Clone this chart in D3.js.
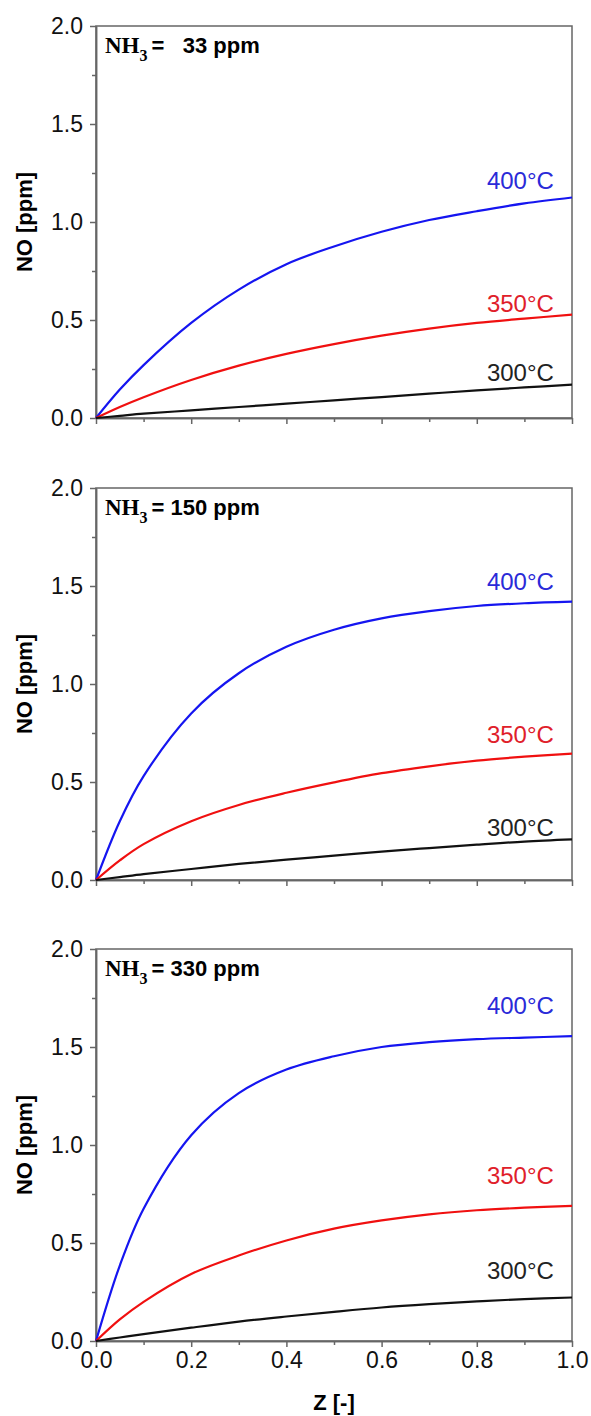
<!DOCTYPE html>
<html>
<head>
<meta charset="utf-8">
<style>
  body { margin: 0; background: #fff; }
  svg text { font-family: "Liberation Sans", Arial, sans-serif; }
  .axis path, .axis line { stroke: #666; stroke-width: 1.5; }
  .axis text { font-size: 23px; fill: #111; }
  .curve { fill: none; stroke-width: 2.2; }
  .tlabel { font-size: 24px; text-anchor: end; }
  .title { font-size: 22px; font-weight: bold; white-space: pre; }
</style>
</head>
<body>
<svg id="chart" width="591" height="1416"></svg>
<script src="https://d3js.org/d3.v7.min.js"></script>
<script>
// data
var zValues = [0, 0.05, 0.1, 0.2, 0.3, 0.4, 0.5, 0.6, 0.7, 0.8, 0.9, 1.0];
var nh3Levels = ["  33", "150", "330"];
var tempLabels = ["400°C", "350°C", "300°C"];
var tempColors = ["#1515f0", "#f01010", "#111111"];
var labelColors = ["#2a2ad8", "#e0202a", "#222222"];

var no400 = [
  [0, 0.145, 0.27, 0.485, 0.655, 0.785, 0.875, 0.95, 1.01, 1.055, 1.095, 1.125],
  [0, 0.30, 0.53, 0.85, 1.055, 1.19, 1.277, 1.335, 1.372, 1.398, 1.412, 1.42],
  [0, 0.385, 0.675, 1.05, 1.265, 1.385, 1.453, 1.50, 1.525, 1.54, 1.548, 1.555]
];
var no350 = [
  [0, 0.056, 0.106, 0.194, 0.267, 0.327, 0.377, 0.42, 0.456, 0.485, 0.507, 0.527],
  [0, 0.10, 0.183, 0.30, 0.383, 0.445, 0.498, 0.545, 0.58, 0.609, 0.629, 0.645],
  [0, 0.11, 0.2, 0.342, 0.436, 0.513, 0.573, 0.615, 0.646, 0.667, 0.68, 0.689]
];
var no300 = [
  [0, 0.011, 0.022, 0.039, 0.056, 0.073, 0.09, 0.107, 0.124, 0.141, 0.156, 0.17],
  [0, 0.015, 0.03, 0.056, 0.082, 0.104, 0.124, 0.145, 0.163, 0.18, 0.196, 0.207],
  [0, 0.018, 0.035, 0.068, 0.099, 0.125, 0.149, 0.171, 0.188, 0.202, 0.214, 0.222]
];

var yTicks = [0, 0.5, 1.0, 1.5, 2.0];
var yMinor = [0.25, 0.75, 1.25, 1.75];
var xTicks = [0, 0.2, 0.4, 0.6, 0.8, 1.0];
var xMinor = [0.1, 0.3, 0.5, 0.7, 0.9];

// where the temperature labels sit (NO value of their baseline), per panel
var labelAt = [[1.17, 0.54, 0.19], [1.48, 0.70, 0.226], [1.67, 0.80, 0.318]];

var left = 96, right = 572, plotH = 392;
var panelTops = [26, 488, 949];

var svg = d3.select("#chart");
var x = d3.scaleLinear().domain([0, 1]).range([left, right]);
var fmt = d3.format(".1f");

panelTops.forEach(function(top, p) {
  var y = d3.scaleLinear().domain([0, 2]).range([top + plotH, top]);
  var g = svg.append("g");
  var last = p == panelTops.length - 1;

  // box
  g.append("rect")
    .attr("x", left).attr("y", top)
    .attr("width", right - left).attr("height", plotH)
    .attr("fill", "none").attr("stroke", "#666").attr("stroke-width", 1.5);

  g.append("g").attr("class", "axis")
    .attr("transform", "translate(" + left + ",0)")
    .call(d3.axisLeft(y).tickValues(yMinor).tickFormat("").tickSize(4).tickSizeOuter(0));
  g.append("g").attr("class", "axis")
    .attr("transform", "translate(" + left + ",0)")
    .call(d3.axisLeft(y).tickValues(yTicks).tickFormat(fmt).tickSize(6).tickPadding(7).tickSizeOuter(0));

  g.append("g").attr("class", "axis")
    .attr("transform", "translate(0," + (top + plotH) + ")")
    .call(d3.axisBottom(x).tickValues(xMinor).tickFormat("").tickSize(4).tickSizeOuter(0));
  g.append("g").attr("class", "axis")
    .attr("transform", "translate(0," + (top + plotH) + ")")
    .call(d3.axisBottom(x).tickValues(xTicks).tickFormat(last ? fmt : "").tickSize(6).tickPadding(5).tickSizeOuter(0));

  g.selectAll(".domain").attr("stroke", "#666");

  var series = [no400[p], no350[p], no300[p]];
  var line = d3.line()
    .x(function(d, i) { return x(zValues[i]); })
    .y(function(d) { return y(d); })
    .curve(d3.curveCatmullRom.alpha(0.5));

  series.forEach(function(s, k) {
    g.append("path").attr("class", "curve")
      .attr("d", line(s))
      .attr("stroke", tempColors[k]);
    g.append("text").attr("class", "tlabel")
      .attr("x", x(0.962))
      .attr("y", y(labelAt[p][k]))
      .attr("fill", labelColors[k])
      .text(tempLabels[k]);
  });

  // NH3 = ... ppm
  var t = g.append("text").attr("class", "title")
    .attr("x", left + 9).attr("y", top + 27);
  t.append("tspan").attr("font-family", "Liberation Serif, Times New Roman, serif")
    .attr("font-size", 23).text("NH");
  t.append("tspan").attr("font-family", "Liberation Serif, Times New Roman, serif")
    .attr("font-size", 16).attr("dy", 8).text("3");
  t.append("tspan").attr("dy", -8).attr("dx", 4).text("= " + nh3Levels[p] + " ppm");

  g.append("text")
    .attr("transform", "translate(32," + (top + plotH / 2) + ") rotate(-90)")
    .attr("text-anchor", "middle")
    .attr("font-size", 22).attr("font-weight", "bold")
    .text("NO [ppm]");
});

svg.append("text")
  .attr("x", (left + right) / 2).attr("y", 1410)
  .attr("text-anchor", "middle")
  .attr("font-size", 22).attr("font-weight", "bold")
  .text("Z [-]");
</script>
</body>
</html>
